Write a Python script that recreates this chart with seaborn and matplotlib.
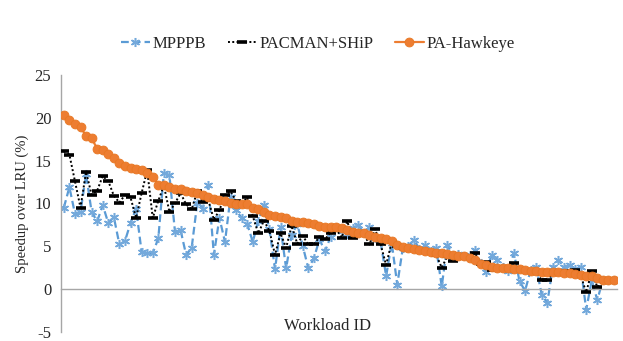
import matplotlib
matplotlib.use("Agg")
import matplotlib.pyplot as plt
import numpy as np
import pandas as pd
import seaborn as sns

# values, one per workload (100 workloads)
pa_hawkeye = [
    20.3, 19.7, 19.3, 18.9, 17.9, 17.6, 16.4, 16.2, 15.8, 15.3,
    14.7, 14.4, 14.1, 14.0, 13.9, 13.5, 13.1, 12.2, 12.1, 11.9,
    11.7, 11.7, 11.5, 11.3, 11.2, 11.0, 10.7, 10.5, 10.4, 10.3,
    10.1, 9.9, 9.9, 9.9, 9.5, 9.3, 9.0, 8.7, 8.5, 8.4,
    8.3, 8.0, 7.8, 7.8, 7.7, 7.6, 7.4, 7.3, 7.2, 7.2,
    7.1, 6.9, 6.7, 6.6, 6.5, 6.3, 6.1, 5.9, 5.8, 5.6,
    5.1, 4.9, 4.8, 4.7, 4.6, 4.4, 4.3, 4.2, 4.2, 4.1,
    4.0, 3.9, 3.8, 3.6, 3.4, 2.9, 2.8, 2.6, 2.5, 2.4,
    2.4, 2.3, 2.3, 2.2, 2.1, 2.1, 2.0, 2.0, 2.0, 2.0,
    1.9, 1.9, 1.8, 1.6, 1.5, 1.5, 1.3, 1.1, 1.1, 1.0,
]
pacman_ship = [
    16.1, 15.7, 12.6, 9.5, 13.7, 11.0, 11.5, 13.2, 12.6, 10.9,
    10.1, 11.0, 10.7, 8.3, 11.2, 13.9, 8.3, 10.3, 12.1, 9.0,
    10.0, 11.2, 9.9, 9.3, 11.4, 10.2, 10.4, 8.1, 9.2, 11.0,
    11.4, 10.3, 9.9, 10.7, 8.5, 6.5, 8.0, 6.8, 4.0, 6.5,
    4.8, 7.4, 5.3, 6.2, 5.2, 5.2, 6.1, 5.8, 6.6, 7.0,
    6.0, 7.9, 6.0, 6.6, 6.4, 5.2, 7.0, 5.2, 2.8, 5.5,
    5.0, 4.8, 4.7, 4.5, 4.5, 4.3, 4.2, 4.0, 2.5, 3.8,
    3.3, 3.9, 3.7, 3.6, 4.2, 2.9, 3.2, 2.2, 2.4, 2.4,
    2.3, 3.0, 2.1, 2.1, 2.0, 2.0, 1.0, 1.0, 1.9, 2.0,
    2.1, 1.9, 2.2, 1.6, -0.4, 2.1, 0.2, 1.1, 1.1, 1.0,
]
mpppb = [
    9.5, 11.9, 8.8, 9.0, 13.4, 9.0, 7.9, 9.8, 7.7, 8.4,
    5.2, 5.6, 7.7, 9.4, 4.3, 4.2, 4.2, 5.9, 13.5, 13.3,
    6.7, 6.9, 4.0, 4.8, 10.0, 9.4, 12.1, 4.0, 8.3, 5.5,
    10.8, 9.2, 8.3, 7.6, 5.5, 8.0, 9.8, 7.0, 2.3, 7.2,
    2.4, 6.3, 7.6, 5.0, 2.4, 3.6, 5.8, 4.4, 6.1, 7.2,
    6.8, 6.4, 7.1, 7.5, 6.5, 7.2, 6.0, 5.5, 1.5, 5.4,
    0.5, 4.8, 5.0, 5.7, 4.7, 5.1, 4.4, 4.8, 0.3, 5.1,
    4.0, 4.1, 3.8, 4.0, 4.5, 3.0, 2.0, 4.0, 3.4, 2.6,
    2.1, 4.2, 0.9, -0.2, 2.2, 2.6, -0.7, -1.6, 2.6, 3.4,
    2.6, 2.8, 2.3, 2.6, -2.4, 1.0, -1.3, 1.1, 1.1, 1.0,
]
workload = np.arange(len(pa_hawkeye))

df = pd.DataFrame({"workload": workload, "MPPPB": mpppb,
                   "PACMAN+SHiP": pacman_ship, "PA-Hawkeye": pa_hawkeye})

sns.set_style("white")
plt.rcParams["font.family"] = ["Liberation Serif", "DejaVu Serif"]
plt.rcParams["axes.unicode_minus"] = False

fig = plt.figure(figsize=(6.23, 3.41), dpi=100)
ax = fig.add_axes([0.098, 0.027, 0.892, 0.753])

sns.lineplot(data=df, x="workload", y="MPPPB", ax=ax, errorbar=None,
             color="#5B9BD5", linestyle=(0, (3.5, 1.8)), linewidth=1.6,
             marker=(6, 2, 0), markersize=6.5, markeredgewidth=1.1,
             markeredgecolor="#74A9DB", label="MPPPB", zorder=2)
sns.lineplot(data=df, x="workload", y="PACMAN+SHiP", ax=ax, errorbar=None,
             color="black", linestyle=(0, (1, 1.2)), linewidth=1.4,
             marker="_", markersize=6.5, markeredgewidth=2.6,
             markeredgecolor="black", label="PACMAN+SHiP", zorder=3)
sns.lineplot(data=df, x="workload", y="PA-Hawkeye", ax=ax, errorbar=None,
             color="#ED7D31", linestyle="-", linewidth=1.6,
             marker="o", markersize=6.4, markeredgewidth=0.6,
             markeredgecolor="#E87722", label="PA-Hawkeye", zorder=4)

ax.set_xlim(-0.5, 99.5)
ax.set_ylim(-5, 25)
ax.set_yticks(np.arange(-5, 26, 5))
ax.set_xticks(np.arange(-0.5, 100, 10))
ax.set_xticklabels([])
ax.set_xlabel("")
ax.set_ylabel("Speedup over LRU (%)", fontsize=10.5, labelpad=4)

for s in ["top", "right"]:
    ax.spines[s].set_visible(False)
ax.spines["bottom"].set_position(("data", 0))
for s in ["left", "bottom"]:
    ax.spines[s].set_color("#A6A6A6")
    ax.spines[s].set_linewidth(1.0)
ax.tick_params(axis="both", direction="out", length=4, width=1.0,
               color="#A6A6A6", labelsize=12, pad=3)

ax.text(47.5, -4.3, "Workload ID", ha="center", va="center", fontsize=12)

ax.legend(loc="center", bbox_to_anchor=(0.51, 0.87),
          bbox_transform=fig.transFigure, ncol=3, frameon=False,
          fontsize=12, handlelength=1.75, handletextpad=0.15,
          columnspacing=1.3)

fig.savefig("out.png", dpi=100)
